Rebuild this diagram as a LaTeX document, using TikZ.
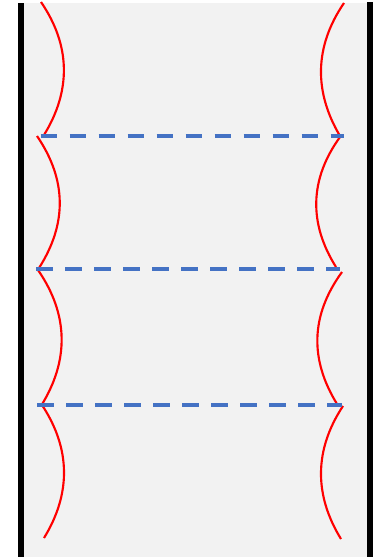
\documentclass[tikz,border=0pt]{standalone}
\usepackage{tikz}

\definecolor{bggray}{RGB}{242,242,242}
\definecolor{rungblue}{RGB}{68,114,196}

\begin{document}
\begin{tikzpicture}[x=0.75pt, y=-0.75pt,
	wall/.style={line width=4.5pt, black},
	bank/.style={line width=1.6pt, red},
	rung/.style={line width=3pt, rungblue, dash pattern={on 12.5pt off 9.25pt}}]
	
	\useasboundingbox (0,0) rectangle (380,557);
	\fill[bggray] (21,3) rectangle (370,557);
	
	% walls
	\coordinate (wlt) at (21,3);
	\coordinate (wlb) at (21,557);
	\coordinate (wrt) at (370,2);
	\coordinate (wrb) at (370,557);
	\draw[wall] (wlt) -- (wlb);
	\draw[wall] (wrt) -- (wrb);
	
	% left banks
	\draw[bank] (41,2) .. controls (71,46) and (71,91) .. (44,135);
	\draw[bank] (37,136) .. controls (67,180) and (67,224) .. (39,268);
	\draw[bank] (38,270) .. controls (69,315) and (69,361) .. (41,406);
	\draw[bank] (42,405) .. controls (71,449) and (71,494) .. (44,538);
	
	% right banks
	\draw[bank] (344,3) .. controls (314,47) and (314,92) .. (340,136);
	\draw[bank] (340,137) .. controls (309,180) and (309,224) .. (336,267);
	\draw[bank] (342,272) .. controls (310,316) and (310,360) .. (337,404);
	\draw[bank] (343,406) .. controls (314,450) and (314,495) .. (341,539);
	
	% dashed rungs
	\coordinate (r1l) at (40.7,136);
	\coordinate (r1r) at (344,136);
	\coordinate (r2l) at (36,269);
	\coordinate (r2r) at (340,269);
	\coordinate (r3l) at (37.3,405);
	\coordinate (r3r) at (341.7,405);
	\draw[rung] (r1l) -- (r1r);
	\draw[rung] (r2l) -- (r2r);
	\draw[rung] (r3l) -- (r3r);
	
\end{tikzpicture}
\end{document}
